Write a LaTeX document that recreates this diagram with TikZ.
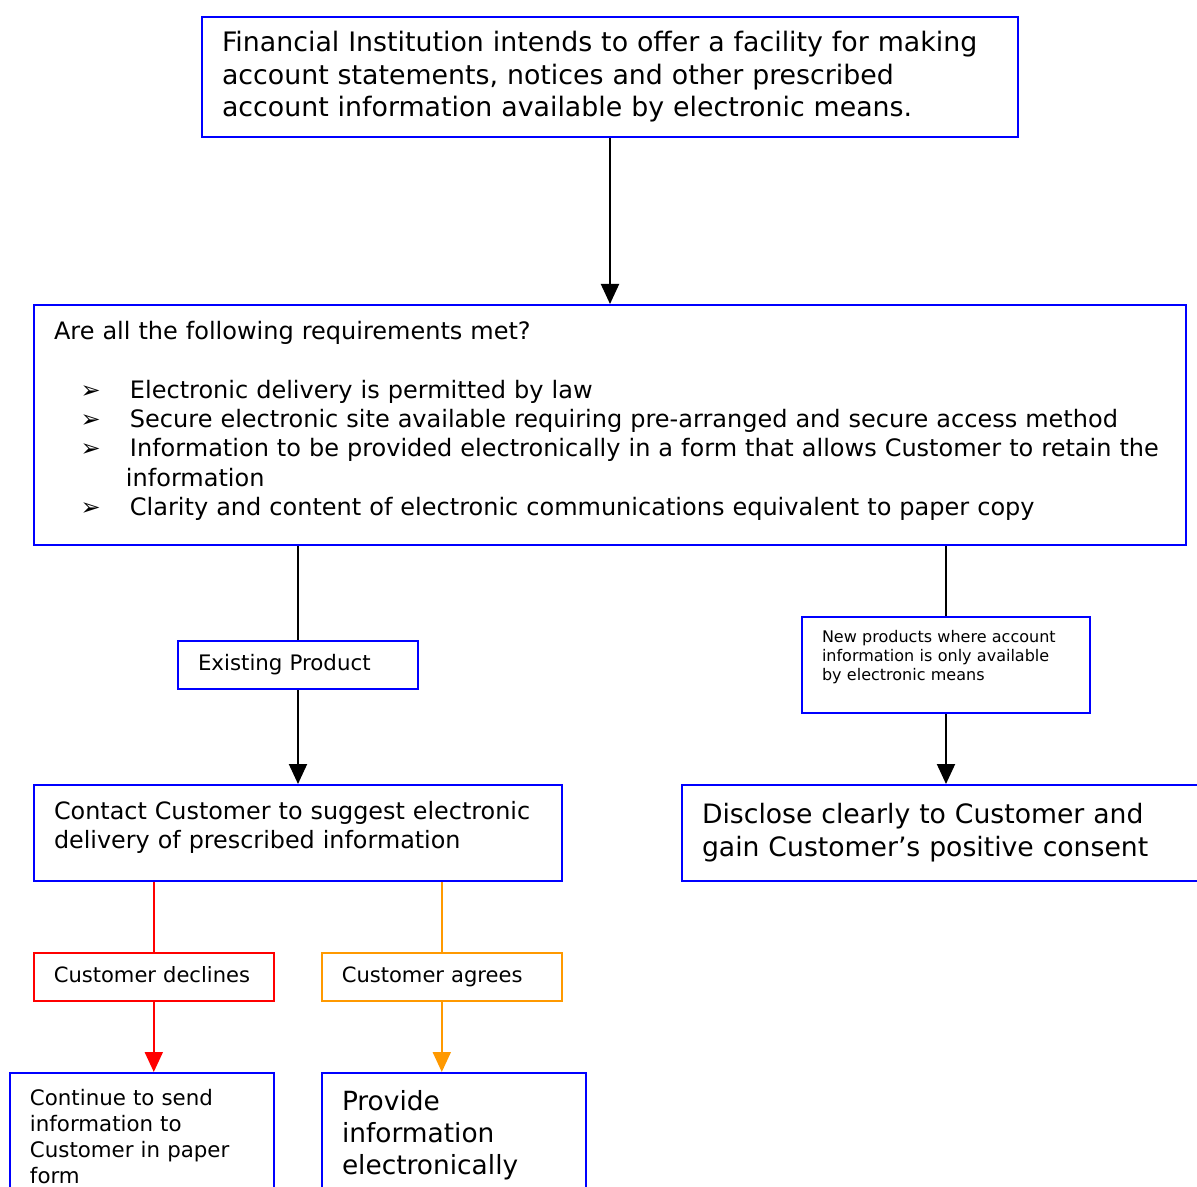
\documentclass[tikz,border=0pt]{standalone}
\usepackage{fontspec}
\setmainfont{DejaVu Sans}
\usetikzlibrary{arrows.meta,positioning}
\definecolor{boxblue}{RGB}{0,0,255}
\definecolor{declred}{RGB}{255,0,0}
\definecolor{agreeorange}{RGB}{255,153,0}
\tikzset{
  flowbox/.style={
    draw = boxblue,
    line width = 1.5pt,
    anchor = north west,
    align = left,
    inner xsep = 15pt,
    inner ysep = 6pt
  },
  link/.style={
    line width = 1.5pt
  },
  linkarrow/.style={
    line width = 1.5pt,
    -{Triangle[width=13.5pt,length=15pt]}
  },
}
\newcommand{\reqitem}{\hspace*{20pt}\makebox[37pt][l]{➢}}

\begin{document}
\begin{tikzpicture}[x=0.75pt, y=-0.75pt]
                \useasboundingbox (0,0) rectangle (1197,1187);

                \node[flowbox, text width=582pt, minimum height=90pt, font=\fontsize{20.1}{24.4}\selectfont] (intent) at (201,16)
                  {Financial Institution intends to offer a facility for making\\
                   account statements, notices and other prescribed\\
                   account information available by electronic means.};

                \node[flowbox, text width=834pt, minimum height=180pt, font=\fontsize{18}{22}\selectfont] (reqs) at (33,304)
                  {Are all the following requirements met?\\[22pt]
                   \reqitem Electronic delivery is permitted by law\\
                   \reqitem Secure electronic site available requiring pre-arranged and secure access method\\
                   \reqitem Information to be provided electronically in a form that allows Customer to retain the\\
                   \hspace*{54pt}information\\
                   \reqitem Clarity and content of electronic communications equivalent to paper copy\\[-12pt]\mbox{}};

                \node[flowbox, text width=150pt, minimum height=36pt, font=\fontsize{16}{20}\selectfont] (existing) at (177,640) {\strut Existing Product};
                \node[flowbox, text width=186pt, minimum height=72pt, font=\fontsize{12}{14.25}\selectfont] (newprod) at (801,616)
                  {New products where account\\
                   information is only available\\
                   by electronic means\\ \mbox{}};

                \node[flowbox, text width=366pt, minimum height=72pt, font=\fontsize{17.9}{21.75}\selectfont] (contact) at (33,784)
                  {Contact Customer to suggest electronic\\
                   delivery of prescribed information\\[-10pt]\mbox{}};
                \node[flowbox, text width=389pt, minimum height=72pt, font=\fontsize{20}{24.75}\selectfont] (disclose) at (681,784)
                  {Disclose clearly to Customer and\\
                   gain Customer’s positive consent};

                \node[flowbox, draw=declred, line width=1.2pt, text width=150pt, minimum height=36pt, font=\fontsize{15.8}{20}\selectfont] (declines) at (33,952) {\strut Customer declines};
                \node[flowbox, draw=agreeorange, line width=1.2pt, text width=150pt, minimum height=36pt, font=\fontsize{15.8}{20}\selectfont] (agrees) at (321,952) {\strut Customer agrees};

                \node[flowbox, text width=168pt, inner ysep=12pt, font=\fontsize{16}{19.5}\selectfont] (paper) at (9,1072)
                  {Continue to send\\
                   information to\\
                   Customer in paper\\
                   form\\[20pt]\mbox{}};
                \node[flowbox, text width=168pt, inner ysep=13pt, font=\fontsize{19.8}{24}\selectfont] (electronic) at (321,1072)
                  {Provide\\
                   information\\
                   electronically\\[20pt]\mbox{}};

                \draw[linkarrow] (intent) -- (reqs);
                \draw[link] (reqs.south -| existing) -- (existing);
                \draw[linkarrow] (existing) -- (contact);
                \draw[link] (reqs.south -| newprod) -- (newprod);
                \draw[linkarrow] (newprod) -- (disclose.north -| newprod);

                \draw[link, draw=declred] (contact.south -| declines) -- (declines);
                \draw[linkarrow, draw=declred, fill=declred] (declines) -- (paper.north -| declines);
                \draw[link, draw=agreeorange] (contact.south -| agrees) -- (agrees);
                \draw[linkarrow, draw=agreeorange, fill=agreeorange] (agrees) -- (electronic.north -| agrees);
\end{tikzpicture}
\end{document}
